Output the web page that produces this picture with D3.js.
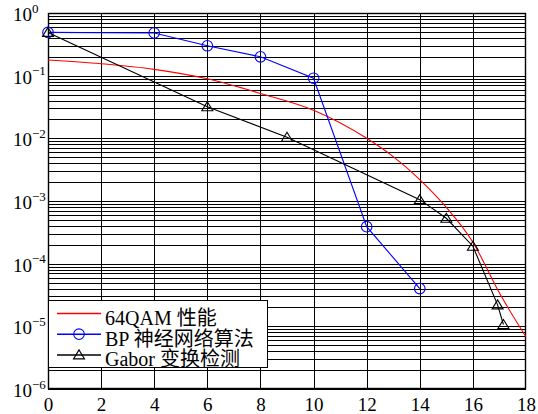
<!DOCTYPE html>
<html>
<head>
<meta charset="utf-8">
<script src="https://cdn.jsdelivr.net/npm/d3@7"></script>
<style>
  body { margin: 0; background: #fff; }
  svg { display: block; }
</style>
</head>
<body>
<svg id="chart" width="538" height="414"></svg>
<script>
// 数据
const qamSnr = [0, 2, 4, 6, 8, 10, 12, 13, 14, 15, 16, 17, 18];
const qamBer = [0.178, 0.155, 0.126, 0.089, 0.052, 0.028, 0.010, 5.1e-3, 2.2e-3, 7.9e-4, 2.2e-4, 3.4e-5, 6.8e-6];

const bpSnr = [0, 4, 6, 8, 10, 12, 14];
const bpBer = [0.49, 0.48, 0.30, 0.20, 0.091, 3.9e-4, 4.0e-5];

const gaborSnr = [0, 6, 9, 14, 15, 16, 16.93, 17.15];
const gaborBer = [0.49, 0.032, 0.0104, 1.05e-3, 5.3e-4, 1.9e-4, 2.2e-5, 1.07e-5];

const xTicks = [0, 2, 4, 6, 8, 10, 12, 14, 16, 18];
const yDecades = [0, -1, -2, -3, -4, -5, -6];
const legendLabels = ["64QAM 性能", "BP 神经网络算法", "Gabor 变换检测"];

const series = [
    { x: qamSnr, y: qamBer, color: "#ff0000", marker: null, smooth: true },
    { x: bpSnr, y: bpBer, color: "#0000ff", marker: "circle", smooth: false },
    { x: gaborSnr, y: gaborBer, color: "#000000", marker: "triangle", smooth: false },
];

const FONT = "'Liberation Serif', 'Times New Roman', 'Noto Sans CJK SC', serif";

const margin = { left: 48, top: 13, right: 12, bottom: 25 };
const W = 538, H = 414;
const w = W - margin.left - margin.right;
const h = H - margin.top - margin.bottom;

const svg = d3.select("#chart");
const g = svg.append("g").attr("transform", `translate(${margin.left},${margin.top})`);

const x = d3.scaleLinear().domain([0, 18]).range([0, w]);
const y = d3.scaleLog().domain([1e-6, 1]).range([h, 0]);

// 网格线（对齐像素，保证线条清晰）
g.append("g")
    .attr("class", "grid-x")
    .call(d3.axisBottom(x).tickValues(xTicks.slice(1, -1)).tickSize(h).tickFormat(""))
    .call((s) => s.select(".domain").remove())
    .call((s) => s.selectAll(".tick").attr("transform", (d) => `translate(${Math.round(x(d)) + 0.5},0)`))
    .selectAll("line")
    .attr("stroke", "#000")
    .attr("stroke-width", 1);

g.append("g")
    .attr("class", "grid-y")
    .call(d3.axisLeft(y).tickValues(y.ticks()).tickSize(-w).tickFormat(""))
    .call((s) => s.select(".domain").remove())
    .call((s) => s.selectAll(".tick").attr("transform", (d) => `translate(0,${Math.round(y(d)) + 0.5})`))
    .selectAll("line")
    .attr("stroke", "#000")
    .attr("stroke-width", 1);

// 坐标框
g.append("rect")
    .attr("x", 0.5)
    .attr("y", 0.5)
    .attr("width", w - 1)
    .attr("height", h - 1)
    .attr("fill", "none")
    .attr("stroke", "#000")
    .attr("stroke-width", 1.4);

// x 轴刻度标签
g.append("g")
    .attr("transform", `translate(0,${h})`)
    .call(d3.axisBottom(x).tickValues(xTicks).tickSize(0).tickPadding(8))
    .call((s) => s.select(".domain").remove())
    .selectAll("text")
    .attr("font-family", FONT)
    .attr("font-size", 19)
    .attr("fill", "#000")
    .attr("dy", null)
    .attr("y", 22);

// y 轴刻度标签 10^n
const yLabels = g.append("g");
yDecades.forEach((d) => {
    const t = yLabels.append("text")
        .attr("x", -35)
        .attr("y", y(Math.pow(10, d)) + 8)
        .attr("font-family", FONT)
        .attr("fill", "#000");
    t.append("tspan").attr("font-size", 19).text("10");
    t.append("tspan")
        .attr("font-size", 13)
        .attr("dy", -8.5)
        .text(d === 0 ? "0" : "\u2212" + Math.abs(d));
});

// 曲线
const plot = g.append("g");
series.forEach((s) => {
    const pts = s.x.map((v, i) => [v, s.y[i]]);
    const line = d3.line()
        .x((d) => x(d[0]))
        .y((d) => y(d[1]))
        .curve(s.smooth ? d3.curveMonotoneX : d3.curveLinear);

    plot.append("path")
        .datum(pts)
        .attr("fill", "none")
        .attr("stroke", s.color)
        .attr("stroke-width", 1.1)
        .attr("d", line);

    if (s.marker === "circle") {
        plot.selectAll(null)
            .data(pts)
            .join("circle")
            .attr("cx", (d) => x(d[0]))
            .attr("cy", (d) => y(d[1]))
            .attr("r", 5.3)
            .attr("fill", "none")
            .attr("stroke", s.color)
            .attr("stroke-width", 1.1);
    } else if (s.marker === "triangle") {
        plot.selectAll(null)
            .data(pts)
            .join("path")
            .attr("transform", (d) => `translate(${x(d[0])},${y(d[1])})`)
            .attr("d", "M0,-5L5.5,4L-5.5,4Z")
            .attr("fill", "none")
            .attr("stroke", s.color)
            .attr("stroke-width", 1.1);
    }
});

// 图例
const legend = svg.append("g").attr("transform", "translate(48.5,300.5)");
legend.append("rect")
    .attr("width", 219)
    .attr("height", 67)
    .attr("fill", "#fff")
    .attr("stroke", "#000")
    .attr("stroke-width", 1);

series.forEach((s, i) => {
    const ly = 13 + i * 20.7;
    const row = legend.append("g").attr("transform", `translate(0,${ly})`);
    row.append("path")
        .attr("d", "M8.5,0H52.5")
        .attr("fill", "none")
        .attr("stroke", s.color)
        .attr("stroke-width", 1.5);
    if (s.marker === "circle") {
        row.append("circle")
            .attr("cx", 30.5).attr("r", 5.3)
            .attr("fill", "none").attr("stroke", s.color).attr("stroke-width", 1.1);
    } else if (s.marker === "triangle") {
        row.append("path")
            .attr("transform", "translate(30.5,0)")
            .attr("d", "M0,-5L5.5,4L-5.5,4Z")
            .attr("fill", "none").attr("stroke", s.color).attr("stroke-width", 1.1);
    }
    row.append("text")
        .attr("x", 56.5)
        .attr("y", 11.5)
        .attr("font-family", FONT)
        .attr("font-size", 20)
        .attr("fill", "#000")
        .text(legendLabels[i]);
});
</script>
</body>
</html>
